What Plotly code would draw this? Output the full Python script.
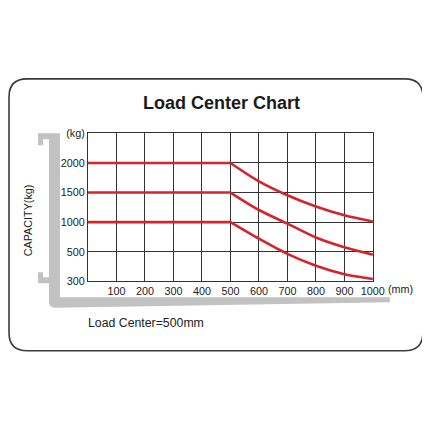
import numpy as np
import plotly.graph_objects as go

# load center (mm) and capacity (kg)
load_center_mm = [0, 500, 600, 700, 800, 900, 1000]
cap_2000 = [2000, 2000, 1690, 1455, 1265, 1115, 1010]
cap_1500 = [1500, 1500, 1205, 975, 740, 575, 480]
cap_1000 = [1000, 1000, 720, 485, 405, 348, 316]

x_ticks = [100, 200, 300, 400, 500, 600, 700, 800, 900, 1000]
kg_levels = [300, 500, 1000, 1500, 2000]
y_tick_text = ['300', '500', '1000', '1500', '2000', '(kg)']

W = H = 430
OFF = 8                         # body margin of the page
S, BX, BY = 0.9725, 0.2, 5.8    # how the page ends up in the photo (measured)
RED = '#d4242c'
GRID = '#333333'
FONT = 'Arial, Liberation Sans, sans-serif'


def fs(size):
    return round(size / S, 1)


def kg_pos(vals):
    # the printed y scale is not linear: each labelled level is one row
    return np.interp(vals, kg_levels, list(range(len(kg_levels))))


def fx(x):
    return ((x - BX) / S - OFF) / W


def fy(y):
    return 1 - ((y - BY) / S - OFF) / H


def pt(x, y):
    return '%.5f,%.5f' % (fx(x), fy(y))


def path(cmds):
    out = []
    for c in cmds:
        if c[0] == 'Z':
            out.append('Z')
        elif c[0] == 'Q':
            out.append('Q' + pt(*c[1]) + ' ' + pt(*c[2]))
        else:
            out.append(c[0] + pt(*c[1]))
    return ' '.join(out)


fig = go.Figure()

for caps in [cap_2000, cap_1500, cap_1000]:
    # flat part up to the rated load center, then the derating curve
    fig.add_scatter(x=load_center_mm[:2], y=kg_pos(caps[:2]), mode='lines',
                    line=dict(color=RED, width=2.6), hoverinfo='skip')
    fig.add_scatter(x=load_center_mm[1:], y=kg_pos(caps[1:]), mode='lines',
                    line=dict(color=RED, width=2.6, shape='spline', smoothing=0.8),
                    hoverinfo='skip')

# card outline
r = 18
x0, y0, x1, y1 = 9, 78.5, 423, 350.5
card = path([('M', (x0 + r, y0)), ('L', (x1 - r, y0)), ('Q', (x1, y0), (x1, y0 + r)),
             ('L', (x1, y1 - r)), ('Q', (x1, y1), (x1 - r, y1)),
             ('L', (x0 + r, y1)), ('Q', (x0, y1), (x0, y1 - r)),
             ('L', (x0, y0 + r)), ('Q', (x0, y0), (x0 + r, y0)), ('Z',)])

# fork silhouette behind the grid
fork = path([('M', (38, 133)), ('L', (60, 133)), ('L', (60, 297)), ('L', (390, 297)),
             ('L', (390, 302)), ('L', (55, 307.5)), ('Q', (49, 307.5), (49, 301)),
             ('L', (49, 283)), ('L', (38, 283)), ('L', (38, 272)), ('L', (43, 272)),
             ('L', (43, 277)), ('L', (49, 277)), ('L', (49, 139)), ('L', (43, 139)),
             ('L', (43, 145)), ('L', (38, 145)), ('Z',)])

fig.update_layout(
    width=W, height=H, autosize=False,
    margin=dict(l=0, r=0, t=0, b=0),
    paper_bgcolor='white', plot_bgcolor='rgba(0,0,0,0)',
    showlegend=False,
    font=dict(family=FONT, color='#222222', size=fs(10.5)),
    shapes=[
        dict(type='path', path=card, xref='paper', yref='paper',
             line=dict(color='#3a3a3a', width=1.6), fillcolor='white', layer='below'),
        dict(type='path', path=fork, xref='paper', yref='paper',
             line=dict(width=0), fillcolor='#c2c2c2', layer='below'),
    ],
    xaxis=dict(domain=[fx(88), fx(373)], range=[0, 1000], tickvals=x_ticks,
               ticktext=[str(v) for v in x_ticks], showgrid=True, gridcolor=GRID,
               gridwidth=1, showline=True, mirror=True, linecolor=GRID, linewidth=1,
               zeroline=False, ticks='', tickfont=dict(size=fs(10.5)), fixedrange=True),
    yaxis=dict(domain=[fy(281), fy(133)], range=[0, 5],
               tickvals=list(range(len(y_tick_text))), ticktext=y_tick_text,
               showgrid=True, gridcolor=GRID, gridwidth=1, showline=True, mirror=True,
               linecolor=GRID, linewidth=1, zeroline=False, ticks='',
               tickfont=dict(size=fs(10.5)), fixedrange=True),
    annotations=[
        dict(text='<b>Load Center Chart</b>', x=fx(221.5), y=fy(103),
             xref='paper', yref='paper', showarrow=False, xanchor='center',
             yanchor='middle', font=dict(size=fs(17.5), color='#1a1a1a')),
        dict(text='CAPACITY(kg)', x=fx(28), y=fy(220), xref='paper', yref='paper',
             showarrow=False, textangle=-90, xanchor='center', yanchor='middle',
             font=dict(size=fs(10.5))),
        dict(text='(mm)', x=fx(401), y=fy(289), xref='paper', yref='paper',
             showarrow=False, xanchor='center', yanchor='middle', font=dict(size=fs(10.5))),
        dict(text='Load Center=500mm', x=fx(86), y=fy(323), xref='paper',
             yref='paper', xanchor='left', yanchor='middle', showarrow=False,
             font=dict(size=fs(12))),
    ],
)

fig.write_html('out.html', config={'displayModeBar': False})
